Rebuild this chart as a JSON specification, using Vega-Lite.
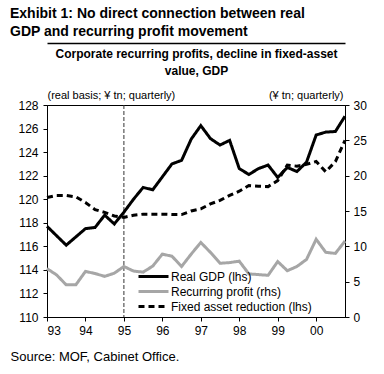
{
  "$schema": "https://vega.github.io/schema/vega-lite/v6.json",
  "width": 298,
  "height": 212,
  "autosize": {"type": "none"},
  "padding": {"left": 47, "top": 105, "right": 39, "bottom": 57},
  "config": {
    "font": "Liberation Sans",
    "view": {"stroke": "#000", "strokeWidth": 1},
    "axis": {"grid": false, "domainColor": "#000", "tickColor": "#000", "labelColor": "#000", "labelFontSize": 12, "labelFont": "Liberation Sans", "titleFont": "Liberation Sans", "titleColor": "#000", "tickSize": 4}
  },
  "title": {
    "text": ["Exhibit 1: No direct connection between real", "GDP and recurring profit movement"],
    "anchor": "start",
    "frame": "group",
    "dx": -37,
    "fontSize": 14,
    "fontWeight": "bold",
    "lineHeight": 18,
    "color": "#000",
    "font": "Liberation Sans"
  },
  "data": {"values": [
    {"t": 1993.00, "s": "Real GDP (lhs)", "v": 117.7},
    {"t": 1993.25, "s": "Real GDP (lhs)", "v": 116.9},
    {"t": 1993.50, "s": "Real GDP (lhs)", "v": 116.1},
    {"t": 1993.75, "s": "Real GDP (lhs)", "v": 116.8},
    {"t": 1994.00, "s": "Real GDP (lhs)", "v": 117.5},
    {"t": 1994.25, "s": "Real GDP (lhs)", "v": 117.6},
    {"t": 1994.50, "s": "Real GDP (lhs)", "v": 118.65},
    {"t": 1994.75, "s": "Real GDP (lhs)", "v": 117.9},
    {"t": 1995.00, "s": "Real GDP (lhs)", "v": 118.9},
    {"t": 1995.25, "s": "Real GDP (lhs)", "v": 120.0},
    {"t": 1995.50, "s": "Real GDP (lhs)", "v": 121.0},
    {"t": 1995.75, "s": "Real GDP (lhs)", "v": 120.8},
    {"t": 1996.00, "s": "Real GDP (lhs)", "v": 121.9},
    {"t": 1996.25, "s": "Real GDP (lhs)", "v": 123.0},
    {"t": 1996.50, "s": "Real GDP (lhs)", "v": 123.3},
    {"t": 1996.75, "s": "Real GDP (lhs)", "v": 125.1},
    {"t": 1997.00, "s": "Real GDP (lhs)", "v": 126.25},
    {"t": 1997.25, "s": "Real GDP (lhs)", "v": 125.15},
    {"t": 1997.50, "s": "Real GDP (lhs)", "v": 124.6},
    {"t": 1997.75, "s": "Real GDP (lhs)", "v": 125.0},
    {"t": 1998.00, "s": "Real GDP (lhs)", "v": 122.6},
    {"t": 1998.25, "s": "Real GDP (lhs)", "v": 122.1},
    {"t": 1998.50, "s": "Real GDP (lhs)", "v": 122.6},
    {"t": 1998.75, "s": "Real GDP (lhs)", "v": 122.9},
    {"t": 1999.00, "s": "Real GDP (lhs)", "v": 121.85},
    {"t": 1999.25, "s": "Real GDP (lhs)", "v": 122.7},
    {"t": 1999.50, "s": "Real GDP (lhs)", "v": 122.35},
    {"t": 1999.75, "s": "Real GDP (lhs)", "v": 123.15},
    {"t": 2000.00, "s": "Real GDP (lhs)", "v": 125.45},
    {"t": 2000.25, "s": "Real GDP (lhs)", "v": 125.7},
    {"t": 2000.50, "s": "Real GDP (lhs)", "v": 125.75},
    {"t": 2000.75, "s": "Real GDP (lhs)", "v": 127.05},
    {"t": 1993.00, "s": "Recurring profit (rhs)", "v": 6.85},
    {"t": 1993.25, "s": "Recurring profit (rhs)", "v": 5.95},
    {"t": 1993.50, "s": "Recurring profit (rhs)", "v": 4.55},
    {"t": 1993.75, "s": "Recurring profit (rhs)", "v": 4.55},
    {"t": 1994.00, "s": "Recurring profit (rhs)", "v": 6.45},
    {"t": 1994.25, "s": "Recurring profit (rhs)", "v": 6.15},
    {"t": 1994.50, "s": "Recurring profit (rhs)", "v": 5.75},
    {"t": 1994.75, "s": "Recurring profit (rhs)", "v": 6.2},
    {"t": 1995.00, "s": "Recurring profit (rhs)", "v": 7.15},
    {"t": 1995.25, "s": "Recurring profit (rhs)", "v": 6.5},
    {"t": 1995.50, "s": "Recurring profit (rhs)", "v": 6.35},
    {"t": 1995.75, "s": "Recurring profit (rhs)", "v": 7.2},
    {"t": 1996.00, "s": "Recurring profit (rhs)", "v": 8.9},
    {"t": 1996.25, "s": "Recurring profit (rhs)", "v": 8.6},
    {"t": 1996.50, "s": "Recurring profit (rhs)", "v": 7.15},
    {"t": 1996.75, "s": "Recurring profit (rhs)", "v": 8.9},
    {"t": 1997.00, "s": "Recurring profit (rhs)", "v": 10.55},
    {"t": 1997.25, "s": "Recurring profit (rhs)", "v": 9.15},
    {"t": 1997.50, "s": "Recurring profit (rhs)", "v": 7.6},
    {"t": 1997.75, "s": "Recurring profit (rhs)", "v": 7.7},
    {"t": 1998.00, "s": "Recurring profit (rhs)", "v": 7.9},
    {"t": 1998.25, "s": "Recurring profit (rhs)", "v": 6.1},
    {"t": 1998.50, "s": "Recurring profit (rhs)", "v": 6.0},
    {"t": 1998.75, "s": "Recurring profit (rhs)", "v": 5.9},
    {"t": 1999.00, "s": "Recurring profit (rhs)", "v": 7.85},
    {"t": 1999.25, "s": "Recurring profit (rhs)", "v": 6.55},
    {"t": 1999.50, "s": "Recurring profit (rhs)", "v": 7.15},
    {"t": 1999.75, "s": "Recurring profit (rhs)", "v": 8.15},
    {"t": 2000.00, "s": "Recurring profit (rhs)", "v": 11.0},
    {"t": 2000.25, "s": "Recurring profit (rhs)", "v": 9.15},
    {"t": 2000.50, "s": "Recurring profit (rhs)", "v": 9.0},
    {"t": 2000.75, "s": "Recurring profit (rhs)", "v": 10.75},
    {"t": 1993.00, "s": "Fixed asset reduction (lhs)", "v": 16.9},
    {"t": 1993.25, "s": "Fixed asset reduction (lhs)", "v": 17.2},
    {"t": 1993.50, "s": "Fixed asset reduction (lhs)", "v": 17.2},
    {"t": 1993.75, "s": "Fixed asset reduction (lhs)", "v": 17.0},
    {"t": 1994.00, "s": "Fixed asset reduction (lhs)", "v": 16.2},
    {"t": 1994.25, "s": "Fixed asset reduction (lhs)", "v": 15.2},
    {"t": 1994.50, "s": "Fixed asset reduction (lhs)", "v": 14.8},
    {"t": 1994.75, "s": "Fixed asset reduction (lhs)", "v": 14.3},
    {"t": 1995.00, "s": "Fixed asset reduction (lhs)", "v": 14.1},
    {"t": 1995.25, "s": "Fixed asset reduction (lhs)", "v": 14.4},
    {"t": 1995.50, "s": "Fixed asset reduction (lhs)", "v": 14.55},
    {"t": 1995.75, "s": "Fixed asset reduction (lhs)", "v": 14.55},
    {"t": 1996.00, "s": "Fixed asset reduction (lhs)", "v": 14.55},
    {"t": 1996.25, "s": "Fixed asset reduction (lhs)", "v": 14.5},
    {"t": 1996.50, "s": "Fixed asset reduction (lhs)", "v": 14.5},
    {"t": 1996.75, "s": "Fixed asset reduction (lhs)", "v": 15.0},
    {"t": 1997.00, "s": "Fixed asset reduction (lhs)", "v": 15.3},
    {"t": 1997.25, "s": "Fixed asset reduction (lhs)", "v": 16.0},
    {"t": 1997.50, "s": "Fixed asset reduction (lhs)", "v": 16.5},
    {"t": 1997.75, "s": "Fixed asset reduction (lhs)", "v": 17.2},
    {"t": 1998.00, "s": "Fixed asset reduction (lhs)", "v": 17.8},
    {"t": 1998.25, "s": "Fixed asset reduction (lhs)", "v": 18.6},
    {"t": 1998.50, "s": "Fixed asset reduction (lhs)", "v": 18.5},
    {"t": 1998.75, "s": "Fixed asset reduction (lhs)", "v": 18.45},
    {"t": 1999.00, "s": "Fixed asset reduction (lhs)", "v": 19.3},
    {"t": 1999.25, "s": "Fixed asset reduction (lhs)", "v": 21.5},
    {"t": 1999.50, "s": "Fixed asset reduction (lhs)", "v": 21.35},
    {"t": 1999.75, "s": "Fixed asset reduction (lhs)", "v": 21.6},
    {"t": 2000.00, "s": "Fixed asset reduction (lhs)", "v": 22.0},
    {"t": 2000.25, "s": "Fixed asset reduction (lhs)", "v": 20.55},
    {"t": 2000.50, "s": "Fixed asset reduction (lhs)", "v": 22.0},
    {"t": 2000.75, "s": "Fixed asset reduction (lhs)", "v": 25.0}
  ]},
  "layer": [
    {
      "data": {"values": [{"t": 1995}]},
      "mark": {"type": "rule", "strokeDash": [4, 2], "color": "#333", "strokeWidth": 1},
      "encoding": {
        "x": {
          "field": "t", "type": "quantitative",
          "scale": {"domain": [1993, 2000.75], "nice": false, "zero": false},
          "axis": {
            "orient": "top", "offset": 62, "domain": true, "domainWidth": 1.5,
            "ticks": false, "labels": false,
            "title": ["Corporate recurring profits, decline in fixed-asset", "value, GDP"],
            "titleFontSize": 12, "titleFontWeight": "bold",
            "titleBaseline": "alphabetic", "titleY": 14.5, "titleLineHeight": 16.7, "titlePadding": 0
          }
        }
      }
    },
    {
      "transform": [{"filter": "datum.s === 'Real GDP (lhs)'"}],
      "mark": {"type": "line"},
      "encoding": {
        "x": {
          "field": "t", "type": "quantitative",
          "scale": {"domain": [1993, 2000.75], "nice": false, "zero": false},
          "axis": {
            "orient": "bottom", "values": [1993, 1994, 1995, 1996, 1997, 1998, 1999, 2000],
            "labelExpr": "slice(toString(datum.value), 2)", "labelPadding": 4,
            "title": "Source: MOF, Cabinet Office.", "titleX": -37, "titleY": 43,
            "titleAlign": "left", "titleBaseline": "alphabetic", "titleFontSize": 13, "titleFontWeight": "normal"
          }
        },
        "y": {
          "field": "v", "type": "quantitative",
          "scale": {"domain": [110, 128], "nice": false, "zero": false},
          "axis": {
            "orient": "left", "values": [110, 112, 114, 116, 118, 120, 122, 124, 126, 128],
            "labelPadding": 5,
            "title": "(real basis; ¥ tn; quarterly)", "titleAngle": 0, "titleAlign": "left",
            "titleX": 0, "titleY": -7, "titleBaseline": "alphabetic", "titleFontSize": 11, "titleFontWeight": "normal"
          }
        },
        "color": {
          "field": "s", "type": "nominal",
          "scale": {"domain": ["Real GDP (lhs)", "Recurring profit (rhs)", "Fixed asset reduction (lhs)"], "range": ["#000000", "#a6a6a6", "#000000"]},
          "legend": {
            "orient": "none", "legendX": 99, "legendY": 164, "title": null,
            "symbolType": "M-2.5,0H2.5", "symbolSize": 144, "labelFontSize": 12, "labelColor": "#000",
            "labelOffset": 10, "rowPadding": 1
          }
        },
        "strokeDash": {
          "field": "s", "type": "nominal",
          "scale": {"domain": ["Real GDP (lhs)", "Recurring profit (rhs)", "Fixed asset reduction (lhs)"], "range": [[1, 0], [1, 0], [6, 4]]}
        },
        "strokeWidth": {
          "field": "s", "type": "nominal",
          "scale": {"domain": ["Real GDP (lhs)", "Recurring profit (rhs)", "Fixed asset reduction (lhs)"], "range": [3, 3, 1.8]}
        }
      }
    },
    {
      "transform": [{"filter": "datum.s !== 'Real GDP (lhs)'"}],
      "mark": {"type": "line"},
      "encoding": {
        "x": {
          "field": "t", "type": "quantitative",
          "scale": {"domain": [1993, 2000.75], "nice": false, "zero": false},
          "axis": null
        },
        "y": {
          "field": "v", "type": "quantitative",
          "scale": {"domain": [0, 30], "nice": false},
          "axis": {
            "orient": "right", "values": [0, 5, 10, 15, 20, 25, 30],
            "labelPadding": 4,
            "title": "(¥ tn; quarterly)", "titleAngle": 0, "titleAlign": "right",
            "titleX": -2, "titleY": -7, "titleBaseline": "alphabetic", "titleFontSize": 11, "titleFontWeight": "normal"
          }
        },
        "color": {
          "field": "s", "type": "nominal",
          "scale": {"domain": ["Real GDP (lhs)", "Recurring profit (rhs)", "Fixed asset reduction (lhs)"], "range": ["#000000", "#a6a6a6", "#000000"]}
        },
        "strokeDash": {
          "field": "s", "type": "nominal",
          "scale": {"domain": ["Real GDP (lhs)", "Recurring profit (rhs)", "Fixed asset reduction (lhs)"], "range": [[1, 0], [1, 0], [6, 4]]}
        },
        "strokeWidth": {
          "field": "s", "type": "nominal",
          "scale": {"domain": ["Real GDP (lhs)", "Recurring profit (rhs)", "Fixed asset reduction (lhs)"], "range": [3, 3, 1.8]}
        }
      }
    }
  ],
  "resolve": {"scale": {"y": "independent"}, "axis": {"x": "independent"}}
}
